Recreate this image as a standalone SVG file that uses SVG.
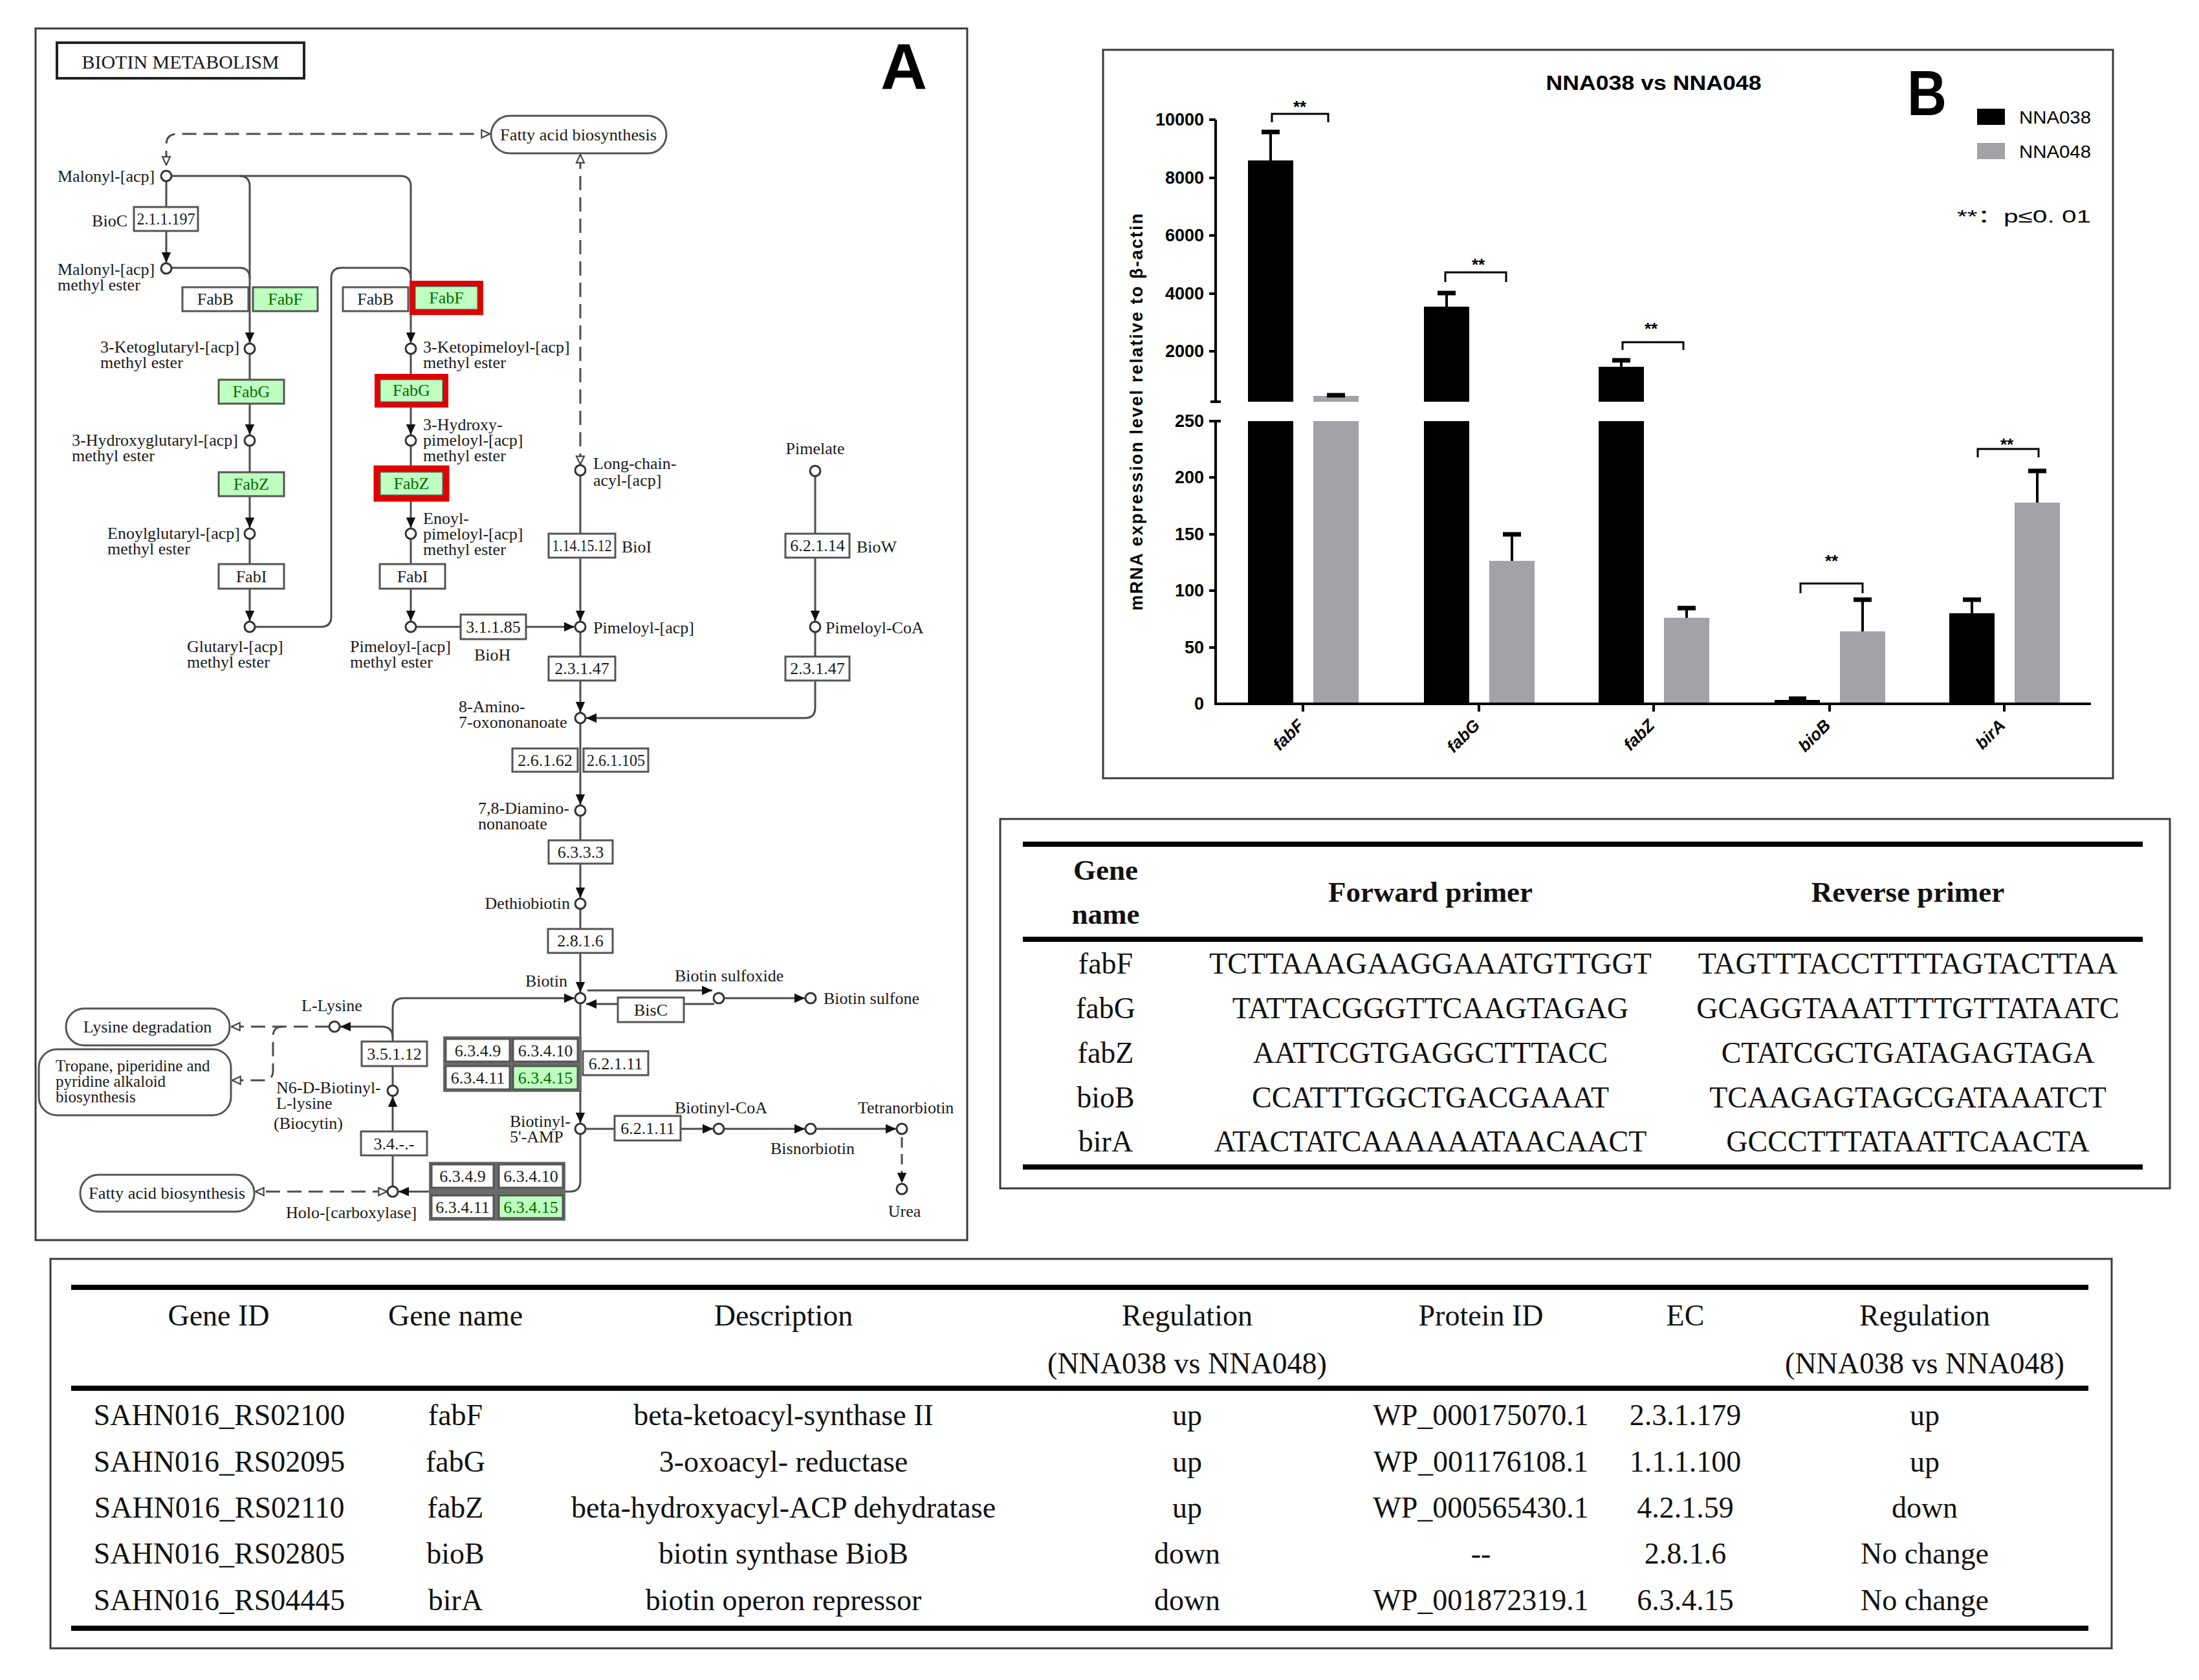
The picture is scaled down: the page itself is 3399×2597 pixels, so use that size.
<svg xmlns="http://www.w3.org/2000/svg" width="3399" height="2597" viewBox="0 0 3399 2597">
<defs>
<style>
.ln{fill:none;stroke:#4d4d4d;stroke-width:3}
.ds{stroke-dasharray:22 11}
.cp{fill:#fff;stroke:#333;stroke-width:3}
.bx{fill:#fff;stroke:#555;stroke-width:3}
.gb{fill:#bfffbf;stroke:#555;stroke-width:3}
.rd{fill:none;stroke:#e00000;stroke-width:8}
.mp{fill:#fff;stroke:#555;stroke-width:3}
.gg{fill:#6b6b6b}
.t{font-family:"Liberation Serif","Times New Roman",serif;font-size:26px;fill:#1a1a1a}
.bt{font-family:"Liberation Serif","Times New Roman",serif;font-size:26px;fill:#1a1a1a;text-anchor:middle}
.gt{fill:#006b00}
.m{text-anchor:middle}
.e{text-anchor:end}
.frame{fill:none;stroke:#3a3a3a;stroke-width:3}
.ax{fill:none;stroke:#000;stroke-width:4}
.cap{stroke:#000;stroke-width:7}
.bk{fill:#000}
.gr{fill:#a2a2a7}
.ss{font-family:"Liberation Sans",Arial,sans-serif;fill:#000}
.tl{font-family:"Liberation Sans",Arial,sans-serif;font-weight:bold;font-size:27px;text-anchor:end;fill:#000}
.xl{font-family:"Liberation Sans",Arial,sans-serif;font-weight:bold;font-style:italic;font-size:26px;text-anchor:end;fill:#000}
.sg{font-family:"Liberation Sans",Arial,sans-serif;font-weight:bold;font-size:26px;text-anchor:middle;fill:#000}
.tb{font-family:"Liberation Serif","Times New Roman",serif;font-size:46px;fill:#111;text-anchor:middle}
.th{font-weight:bold;font-size:45px}
.rule{stroke:#000;stroke-width:8}
</style>
<marker id="ah" viewBox="0 0 10 10" refX="10" refY="5" markerWidth="16" markerHeight="16" markerUnits="userSpaceOnUse" orient="auto"><path d="M0,0.5 L10,5 L0,9.5 z" fill="#111"/></marker>
<marker id="oh" viewBox="0 0 12 12" refX="11" refY="6" markerWidth="16" markerHeight="16" markerUnits="userSpaceOnUse" orient="auto-start-reverse"><path d="M1.5,1.5 L11,6 L1.5,10.5 z" fill="#fff" stroke="#444" stroke-width="1.6"/></marker>
</defs>
<rect width="3399" height="2597" fill="#fff"/>

<!-- ================= PANEL A ================= -->
<g id="panelA">
<rect class="frame" x="55" y="44" width="1440" height="1873"/>
<g id="title-box"><rect x="88" y="66" width="382" height="55" fill="#fff" stroke="#222" stroke-width="4"/><text class="t m" x="279" y="106" style="font-size:30px">BIOTIN METABOLISM</text></g>
<text id="label-A" class="ss" x="1397" y="138" text-anchor="middle" style="font-size:100px;font-weight:bold">A</text>

<g id="connectors">
<path class="ln ds" d="M257,255 V224 Q257,207 274,207 H757" marker-start="url(#oh)" marker-end="url(#oh)"/>
<path class="ln" d="M257,280 V406" marker-end="url(#ah)"/>
<path class="ln" d="M265,272 H619 Q635,272 635,288 V530" marker-end="url(#ah)"/>
<path class="ln" d="M370,272 Q386,272 386,288 V530" marker-end="url(#ah)"/>
<path class="ln" d="M265,414 H370 Q386,414 386,430"/>
<path class="ln" d="M386,547 V672" marker-end="url(#ah)"/>
<path class="ln" d="M386,689 V816" marker-end="url(#ah)"/>
<path class="ln" d="M386,833 V960" marker-end="url(#ah)"/>
<path class="ln" d="M394,969 H496 Q512,969 512,953 V430 Q512,414 528,414 H619 Q635,414 635,430"/>
<path class="ln" d="M635,547 V672" marker-end="url(#ah)"/>
<path class="ln" d="M635,689 V816" marker-end="url(#ah)"/>
<path class="ln" d="M635,833 V960" marker-end="url(#ah)"/>
<path class="ln" d="M643,969 H888" marker-end="url(#ah)"/>
<path class="ln ds" d="M897,239 V718" marker-start="url(#oh)" marker-end="url(#oh)"/>
<path class="ln" d="M897,735 V960" marker-end="url(#ah)"/>
<path class="ln" d="M897,977 V1101" marker-end="url(#ah)"/>
<path class="ln" d="M1260,736 V960" marker-end="url(#ah)"/>
<path class="ln" d="M1260,977 V1094 Q1260,1110 1244,1110 H906" marker-end="url(#ah)"/>
<path class="ln" d="M897,1118 V1244" marker-end="url(#ah)"/>
<path class="ln" d="M897,1261 V1388" marker-end="url(#ah)"/>
<path class="ln" d="M897,1405 V1534" marker-end="url(#ah)"/>
<path class="ln" d="M908,1531 H1101" marker-end="url(#ah)"/>
<path class="ln" d="M1104,1552 H1057"/>
<path class="ln" d="M955,1552 H906" marker-end="url(#ah)"/>
<path class="ln" d="M1119,1543 H1244" marker-end="url(#ah)"/>
<path class="ln" d="M897,1551 V1736" marker-end="url(#ah)"/>
<path class="ln" d="M905,1745 H950"/>
<path class="ln" d="M1052,1745 H1102" marker-end="url(#ah)"/>
<path class="ln" d="M1119,1745 H1244" marker-end="url(#ah)"/>
<path class="ln" d="M1261,1745 H1385" marker-end="url(#ah)"/>
<path class="ln" d="M1394,1758 V1829" style="stroke-dasharray:16 10" marker-end="url(#ah)"/>
<path class="ln" d="M897,1753 V1826 Q897,1842 881,1842 H873"/>
<path class="ln" d="M664,1842 H616" marker-end="url(#ah)"/>
<path class="ln ds" d="M598,1842 H395" marker-start="url(#oh)" marker-end="url(#oh)"/>
<path class="ln" d="M607,1834 V1695" marker-end="url(#ah)"/>
<path class="ln" d="M607,1678 V1560 Q607,1543 624,1543 H888" marker-end="url(#ah)"/>
<path class="ln" d="M607,1604 Q607,1587 590,1587 H526" marker-end="url(#ah)"/>
<path class="ln ds" d="M509,1587 H358" marker-end="url(#oh)"/>
<path class="ln ds" d="M437,1587 Q422,1587 422,1602 V1655 Q422,1670 407,1670 H359" marker-end="url(#oh)"/>
</g>

<!-- map pills -->
<g id="map-fab-top"><rect class="mp" x="759" y="179" width="271" height="58" rx="29"/><text class="t m" x="894" y="217" textLength="242" lengthAdjust="spacingAndGlyphs">Fatty acid biosynthesis</text></g>
<g id="map-lysdeg"><rect class="mp" x="102" y="1559" width="253" height="57" rx="28"/><text class="t m" x="228" y="1596">Lysine degradation</text></g>
<g id="map-tropane"><rect class="mp" x="60" y="1622" width="297" height="102" rx="28"/><text class="t" x="86" y="1656" style="font-size:25px">Tropane, piperidine and<tspan x="86" y="1680">pyridine alkaloid</tspan><tspan x="86" y="1704">biosynthesis</tspan></text></g>
<g id="map-fab-bot"><rect class="mp" x="124" y="1816" width="269" height="57" rx="28"/><text class="t m" x="258" y="1853" textLength="242" lengthAdjust="spacingAndGlyphs">Fatty acid biosynthesis</text></g>

<!-- enzyme boxes -->
<g id="e-2-1-1-197"><rect class="bx" x="207" y="320" width="99" height="37"/><text class="bt" x="256.5" y="347" textLength="90" lengthAdjust="spacingAndGlyphs">2.1.1.197</text><text class="t e" x="197" y="350">BioC</text></g>
<g id="e-fabB1"><rect class="bx" x="282" y="444" width="102" height="37"/><text class="bt" x="333" y="471">FabB</text></g>
<g id="e-fabF1"><rect class="gb" x="391" y="444" width="100" height="37"/><text class="bt gt" x="441" y="471">FabF</text></g>
<g id="e-fabB2"><rect class="bx" x="530" y="444" width="101" height="37"/><text class="bt" x="580.5" y="471">FabB</text></g>
<g id="e-fabF2"><rect class="gb" x="641" y="442" width="98" height="37"/><rect class="rd" x="637" y="438" width="106" height="45"/><text class="bt gt" x="690" y="469">FabF</text></g>
<g id="e-fabG1"><rect class="gb" x="338" y="587" width="101" height="37"/><text class="bt gt" x="388.5" y="614">FabG</text></g>
<g id="e-fabG2"><rect class="gb" x="587" y="586" width="98" height="36"/><rect class="rd" x="583" y="582" width="106" height="44"/><text class="bt gt" x="636" y="612">FabG</text></g>
<g id="e-fabZ1"><rect class="gb" x="338" y="730" width="101" height="37"/><text class="bt gt" x="388.5" y="757">FabZ</text></g>
<g id="e-fabZ2"><rect class="gb" x="587" y="729" width="98" height="37"/><rect class="rd" x="582" y="724" width="108" height="47" style="stroke-width:9"/><text class="bt gt" x="636" y="756">FabZ</text></g>
<g id="e-fabI1"><rect class="bx" x="338" y="872" width="101" height="38"/><text class="bt" x="388.5" y="900">FabI</text></g>
<g id="e-fabI2"><rect class="bx" x="587" y="872" width="101" height="38"/><text class="bt" x="637.5" y="900">FabI</text></g>
<g id="e-3-1-1-85"><rect class="bx" x="712" y="950" width="101" height="38"/><text class="bt" x="762.5" y="978">3.1.1.85</text><text class="t" x="733" y="1021">BioH</text></g>
<g id="e-1-14-15-12"><rect class="bx" x="848" y="825" width="103" height="37"/><text class="bt" x="899.5" y="852" textLength="92" lengthAdjust="spacingAndGlyphs">1.14.15.12</text><text class="t" x="961" y="854">BioI</text></g>
<g id="e-2-3-1-47a"><rect class="bx" x="848" y="1015" width="103" height="37"/><text class="bt" x="899.5" y="1042">2.3.1.47</text></g>
<g id="e-6-2-1-14"><rect class="bx" x="1214" y="825" width="99" height="37"/><text class="bt" x="1263.5" y="852">6.2.1.14</text><text class="t" x="1324" y="854">BioW</text></g>
<g id="e-2-3-1-47b"><rect class="bx" x="1214" y="1015" width="99" height="37"/><text class="bt" x="1263.5" y="1042">2.3.1.47</text></g>
<g id="e-2-6-1-62"><rect class="bx" x="792" y="1157" width="101" height="36"/><text class="bt" x="842.5" y="1184">2.6.1.62</text></g>
<g id="e-2-6-1-105"><rect class="bx" x="902" y="1157" width="100" height="36"/><text class="bt" x="952" y="1184" textLength="90" lengthAdjust="spacingAndGlyphs">2.6.1.105</text></g>
<g id="e-6-3-3-3"><rect class="bx" x="848" y="1299" width="99" height="36"/><text class="bt" x="897.5" y="1326">6.3.3.3</text></g>
<g id="e-2-8-1-6"><rect class="bx" x="847" y="1436" width="100" height="37"/><text class="bt" x="897" y="1463">2.8.1.6</text></g>
<g id="e-bisC"><rect class="bx" x="955" y="1542" width="102" height="38"/><text class="bt" x="1006" y="1570">BisC</text></g>
<g id="e-grid1">
<rect class="gg" x="685" y="1602" width="214" height="86"/>
<rect class="bx" x="689" y="1606" width="99" height="35"/><text class="bt" x="738.5" y="1633">6.3.4.9</text>
<rect class="bx" x="793" y="1606" width="100" height="35"/><text class="bt" x="843" y="1633">6.3.4.10</text>
<rect class="bx" x="689" y="1648" width="99" height="36"/><text class="bt" x="738.5" y="1675">6.3.4.11</text>
<rect class="gb" x="793" y="1648" width="100" height="36"/><text class="bt gt" x="843" y="1675">6.3.4.15</text>
</g>
<g id="e-6-2-1-11a"><rect class="bx" x="901" y="1625" width="101" height="37"/><text class="bt" x="951.5" y="1653">6.2.1.11</text></g>
<g id="e-6-2-1-11b"><rect class="bx" x="950" y="1725" width="102" height="38"/><text class="bt" x="1001" y="1753">6.2.1.11</text></g>
<g id="e-grid2">
<rect class="gg" x="663" y="1796" width="211" height="91"/>
<rect class="bx" x="667" y="1800" width="96" height="36"/><text class="bt" x="715" y="1827">6.3.4.9</text>
<rect class="bx" x="771" y="1800" width="99" height="36"/><text class="bt" x="820.5" y="1827">6.3.4.10</text>
<rect class="bx" x="667" y="1848" width="96" height="35"/><text class="bt" x="715" y="1875">6.3.4.11</text>
<rect class="gb" x="771" y="1848" width="99" height="35"/><text class="bt gt" x="820.5" y="1875">6.3.4.15</text>
</g>
<g id="e-3-4"><rect class="bx" x="558" y="1749" width="102" height="37"/><text class="bt" x="609" y="1777">3.4.-.-</text></g>
<g id="e-3-5-1-12"><rect class="bx" x="559" y="1610" width="101" height="38"/><text class="bt" x="609.5" y="1638">3.5.1.12</text></g>

<!-- compounds -->
<g id="c-malonyl-acp"><circle class="cp" cx="257" cy="272" r="8"/><text class="t" x="89" y="281">Malonyl-[acp]</text></g>
<g id="c-malonyl-me"><circle class="cp" cx="257" cy="415" r="8"/><text class="t" x="89" y="425">Malonyl-[acp]<tspan x="89" y="449">methyl ester</tspan></text></g>
<g id="c-3kg"><circle class="cp" cx="386" cy="539" r="8"/><text class="t" x="155" y="545">3-Ketoglutaryl-[acp]<tspan x="155" y="569">methyl ester</tspan></text></g>
<g id="c-3hg"><circle class="cp" cx="386" cy="681" r="8"/><text class="t" x="111" y="689">3-Hydroxyglutaryl-[acp]<tspan x="111" y="713">methyl ester</tspan></text></g>
<g id="c-eg"><circle class="cp" cx="386" cy="825" r="8"/><text class="t" x="166" y="833">Enoylglutaryl-[acp]<tspan x="166" y="857">methyl ester</tspan></text></g>
<g id="c-gl"><circle class="cp" cx="386" cy="969" r="8"/><text class="t" x="289" y="1008">Glutaryl-[acp]<tspan x="289" y="1032">methyl ester</tspan></text></g>
<g id="c-3kp"><circle class="cp" cx="635" cy="539" r="8"/><text class="t" x="654" y="545">3-Ketopimeloyl-[acp]<tspan x="654" y="569">methyl ester</tspan></text></g>
<g id="c-3hp"><circle class="cp" cx="635" cy="681" r="8"/><text class="t" x="654" y="665">3-Hydroxy-<tspan x="654" y="689">pimeloyl-[acp]</tspan><tspan x="654" y="713">methyl ester</tspan></text></g>
<g id="c-ep"><circle class="cp" cx="635" cy="825" r="8"/><text class="t" x="654" y="810">Enoyl-<tspan x="654" y="834">pimeloyl-[acp]</tspan><tspan x="654" y="858">methyl ester</tspan></text></g>
<g id="c-pm"><circle class="cp" cx="635" cy="969" r="8"/><text class="t" x="541" y="1008">Pimeloyl-[acp]<tspan x="541" y="1032">methyl ester</tspan></text></g>
<g id="c-lc"><circle class="cp" cx="897" cy="727" r="8"/><text class="t" x="917" y="725">Long-chain-<tspan x="917" y="751">acyl-[acp]</tspan></text></g>
<g id="c-pacp"><circle class="cp" cx="897" cy="969" r="8"/><text class="t" x="917" y="979">Pimeloyl-[acp]</text></g>
<g id="c-pimelate"><circle class="cp" cx="1260" cy="728" r="8"/><text class="t m" x="1260" y="702">Pimelate</text></g>
<g id="c-pcoa"><circle class="cp" cx="1260" cy="969" r="8"/><text class="t" x="1276" y="979">Pimeloyl-CoA</text></g>
<g id="c-8a"><circle class="cp" cx="897" cy="1110" r="8"/><text class="t" x="709" y="1101">8-Amino-<tspan x="709" y="1125">7-oxononanoate</tspan></text></g>
<g id="c-78d"><circle class="cp" cx="897" cy="1253" r="8"/><text class="t" x="739" y="1258">7,8-Diamino-<tspan x="739" y="1282">nonanoate</tspan></text></g>
<g id="c-dtb"><circle class="cp" cx="897" cy="1397" r="8"/><text class="t e" x="881" y="1405">Dethiobiotin</text></g>
<g id="c-biotin"><circle class="cp" cx="897" cy="1543" r="8"/><text class="t e" x="877" y="1525">Biotin</text></g>
<g id="c-bso"><circle class="cp" cx="1111" cy="1543" r="8"/><text class="t" x="1043" y="1517">Biotin sulfoxide</text></g>
<g id="c-bsone"><circle class="cp" cx="1253" cy="1543" r="8"/><text class="t" x="1273" y="1552">Biotin sulfone</text></g>
<g id="c-b5amp"><circle class="cp" cx="897" cy="1745" r="8"/><text class="t" x="788" y="1742">Biotinyl-<tspan x="788" y="1766">5'-AMP</tspan></text></g>
<g id="c-bcoa"><circle class="cp" cx="1111" cy="1745" r="8"/><text class="t" x="1043" y="1721">Biotinyl-CoA</text></g>
<g id="c-bnb"><circle class="cp" cx="1253" cy="1745" r="8"/><text class="t" x="1191" y="1784">Bisnorbiotin</text></g>
<g id="c-tnb"><circle class="cp" cx="1394" cy="1745" r="8"/><text class="t" x="1326" y="1721">Tetranorbiotin</text></g>
<g id="c-urea"><circle class="cp" cx="1394" cy="1838" r="8"/><text class="t m" x="1398" y="1881">Urea</text></g>
<g id="c-holo"><circle class="cp" cx="607" cy="1842" r="8"/><text class="t" x="442" y="1883">Holo-[carboxylase]</text></g>
<g id="c-n6"><circle class="cp" cx="607" cy="1686" r="8"/><text class="t" x="427" y="1690">N6-D-Biotinyl-<tspan x="427" y="1714">L-lysine</tspan><tspan x="423" y="1745">(Biocytin)</tspan></text></g>
<g id="c-lys"><circle class="cp" cx="517" cy="1587" r="8"/><text class="t" x="466" y="1563">L-Lysine</text></g>
</g>

<!-- ================= PANEL B ================= -->
<g id="panelB">
<rect class="frame" x="1705" y="77" width="1561" height="1126"/>
<text class="ss" x="2556" y="139" text-anchor="middle" style="font-size:31px;font-weight:bold" textLength="333" lengthAdjust="spacingAndGlyphs">NNA038 vs NNA048</text>
<text class="ss" x="2948" y="178" style="font-size:98px;font-weight:bold" textLength="61" lengthAdjust="spacingAndGlyphs">B</text>
<g id="legend">
<rect class="bk" x="3056" y="168" width="43" height="25"/>
<text class="ss" x="3121" y="191" style="font-size:28px" textLength="111" lengthAdjust="spacingAndGlyphs">NNA038</text>
<rect class="gr" x="3056" y="221" width="43" height="25"/>
<text class="ss" x="3121" y="244" style="font-size:28px" textLength="111" lengthAdjust="spacingAndGlyphs">NNA048</text>
<text class="ss" x="3025" y="344" style="font-size:28px;font-family:'Liberation Sans','Noto Sans CJK SC',sans-serif" textLength="207" lengthAdjust="spacingAndGlyphs">**：p≤0. 01</text>
</g>
<text class="ss" transform="translate(1766,637) rotate(-90)" text-anchor="middle" style="font-size:27px;font-weight:bold" textLength="614" lengthAdjust="spacing">mRNA expression level relative to β-actin</text>

<g id="bars">
<rect class="bk" x="1929" y="248" width="70" height="373"/><rect class="bk" x="1929" y="651" width="70" height="437"/>
<rect class="gr" x="2030" y="612" width="70" height="9"/><rect class="gr" x="2030" y="651" width="70" height="437"/>
<rect class="bk" x="2201" y="474" width="70" height="147"/><rect class="bk" x="2201" y="651" width="70" height="437"/>
<rect class="gr" x="2302" y="867" width="70" height="221"/>
<rect class="bk" x="2471" y="567" width="70" height="54"/><rect class="bk" x="2471" y="651" width="70" height="437"/>
<rect class="gr" x="2572" y="955" width="70" height="133"/>
<rect class="bk" x="2743" y="1082" width="70" height="6"/>
<rect class="gr" x="2844" y="976" width="70" height="112"/>
<rect class="bk" x="3013" y="948" width="70" height="140"/>
<rect class="gr" x="3114" y="777" width="70" height="311"/>
</g>
<g id="errorbars" stroke="#000">
<path stroke-width="4" d="M1964,248 V204 M2236,474 V453 M2337,867 V826 M2506,567 V557 M2607,955 V940 M2879,976 V927 M3048,948 V927 M3149,777 V728"/>
<path class="cap" d="M1950,204 H1978 M2051,611 H2079 M2222,453 H2250 M2323,826 H2351 M2492,557 H2520 M2593,940 H2621 M2765,1080 H2792 M2865,927 H2893 M3034,927 H3062 M3135,728 H3163"/>
</g>
<g id="axes">
<path class="ax" d="M1879,185 V621 M1869,185 H1879 M1869,275 H1879 M1869,364 H1879 M1869,454 H1879 M1869,543 H1879 M1871,621 H1887"/>
<path class="ax" d="M1879,651 V1088 M1869,651 H1887 M1869,738 H1879 M1869,826 H1879 M1869,913 H1879 M1869,1001 H1879"/>
<path class="ax" d="M1877,1088 H3232 M2014,1088 V1100 M2286,1088 V1100 M2556,1088 V1100 M2828,1088 V1100 M3098,1088 V1100"/>
<text class="tl" x="1861" y="194">10000</text>
<text class="tl" x="1861" y="284">8000</text>
<text class="tl" x="1861" y="373">6000</text>
<text class="tl" x="1861" y="463">4000</text>
<text class="tl" x="1861" y="552">2000</text>
<text class="tl" x="1861" y="660">250</text>
<text class="tl" x="1861" y="747">200</text>
<text class="tl" x="1861" y="835">150</text>
<text class="tl" x="1861" y="922">100</text>
<text class="tl" x="1861" y="1010">50</text>
<text class="tl" x="1861" y="1097">0</text>
<text class="xl" transform="translate(2017,1123) rotate(-45)">fabF</text>
<text class="xl" transform="translate(2289,1123) rotate(-45)">fabG</text>
<text class="xl" transform="translate(2559,1123) rotate(-45)">fabZ</text>
<text class="xl" transform="translate(2831,1123) rotate(-45)">bioB</text>
<text class="xl" transform="translate(3101,1123) rotate(-45)">birA</text>
</g>
<g id="significance">
<path fill="none" stroke="#000" stroke-width="3" d="M1966,189 V176 H2053 V189 M2234,436 V421 H2328 V436 M2508,541 V529 H2602 V541 M2783,917 V902 H2879 V917 M3057,707 V694 H3151 V707"/>
<text class="sg" x="2009" y="174">**</text>
<text class="sg" x="2285" y="418">**</text>
<text class="sg" x="2552" y="517">**</text>
<text class="sg" x="2831" y="876">**</text>
<text class="sg" x="3102" y="696">**</text>
</g>
</g>

<!-- ================= PRIMER TABLE ================= -->
<g id="primer-table">
<rect class="frame" x="1546" y="1266" width="1808" height="571"/>
<path class="rule" d="M1581,1305 H3312 M1581,1452 H3312 M1581,1804 H3312"/>
<text class="tb th" x="1709" y="1360">Gene</text>
<text class="tb th" x="1709" y="1428">name</text>
<text class="tb th" x="2211" y="1394">Forward primer</text>
<text class="tb th" x="2949" y="1394">Reverse primer</text>
<text class="tb" x="1709" y="1505">fabF</text><text class="tb" x="2211" y="1505">TCTTAAAGAAGGAAATGTTGGT</text><text class="tb" x="2949" y="1505">TAGTTTACCTTTTAGTACTTAA</text>
<text class="tb" x="1709" y="1574">fabG</text><text class="tb" x="2211" y="1574">TATTACGGGTTCAAGTAGAG</text><text class="tb" x="2949" y="1574">GCAGGTAAATTTTGTTATAATC</text>
<text class="tb" x="1709" y="1643">fabZ</text><text class="tb" x="2211" y="1643">AATTCGTGAGGCTTTACC</text><text class="tb" x="2949" y="1643">CTATCGCTGATAGAGTAGA</text>
<text class="tb" x="1709" y="1712">bioB</text><text class="tb" x="2211" y="1712">CCATTTGGCTGACGAAAT</text><text class="tb" x="2949" y="1712">TCAAGAGTAGCGATAAATCT</text>
<text class="tb" x="1709" y="1780">birA</text><text class="tb" x="2211" y="1780">ATACTATCAAAAAATAACAACT</text><text class="tb" x="2949" y="1780">GCCCTTTATAATTCAACTA</text>
</g>

<!-- ================= GENE TABLE ================= -->
<g id="gene-table">
<rect class="frame" x="78" y="1946" width="3186" height="602"/>
<path class="rule" d="M110,1990 H3228 M110,2146 H3228 M110,2517 H3228"/>
<text class="tb" x="338" y="2049">Gene ID</text>
<text class="tb" x="704" y="2049">Gene name</text>
<text class="tb" x="1211" y="2049">Description</text>
<text class="tb" x="1835" y="2049">Regulation</text>
<text class="tb" x="1835" y="2123">(NNA038 vs NNA048)</text>
<text class="tb" x="2289" y="2049">Protein ID</text>
<text class="tb" x="2605" y="2049">EC</text>
<text class="tb" x="2975" y="2049">Regulation</text>
<text class="tb" x="2975" y="2123">(NNA038 vs NNA048)</text>

<text class="tb" x="339" y="2203">SAHN016_RS02100</text><text class="tb" x="704" y="2203">fabF</text><text class="tb" x="1211" y="2203">beta-ketoacyl-synthase II</text><text class="tb" x="1835" y="2203">up</text><text class="tb" x="2289" y="2203">WP_000175070.1</text><text class="tb" x="2605" y="2203">2.3.1.179</text><text class="tb" x="2975" y="2203">up</text>
<text class="tb" x="339" y="2275">SAHN016_RS02095</text><text class="tb" x="704" y="2275">fabG</text><text class="tb" x="1211" y="2275">3-oxoacyl- reductase</text><text class="tb" x="1835" y="2275">up</text><text class="tb" x="2289" y="2275">WP_001176108.1</text><text class="tb" x="2605" y="2275">1.1.1.100</text><text class="tb" x="2975" y="2275">up</text>
<text class="tb" x="339" y="2346">SAHN016_RS02110</text><text class="tb" x="704" y="2346">fabZ</text><text class="tb" x="1211" y="2346">beta-hydroxyacyl-ACP dehydratase</text><text class="tb" x="1835" y="2346">up</text><text class="tb" x="2289" y="2346">WP_000565430.1</text><text class="tb" x="2605" y="2346">4.2.1.59</text><text class="tb" x="2975" y="2346">down</text>
<text class="tb" x="339" y="2417">SAHN016_RS02805</text><text class="tb" x="704" y="2417">bioB</text><text class="tb" x="1211" y="2417">biotin synthase BioB</text><text class="tb" x="1835" y="2417">down</text><text class="tb" x="2289" y="2417">--</text><text class="tb" x="2605" y="2417">2.8.1.6</text><text class="tb" x="2975" y="2417">No change</text>
<text class="tb" x="339" y="2489">SAHN016_RS04445</text><text class="tb" x="704" y="2489">birA</text><text class="tb" x="1211" y="2489">biotin operon repressor</text><text class="tb" x="1835" y="2489">down</text><text class="tb" x="2289" y="2489">WP_001872319.1</text><text class="tb" x="2605" y="2489">6.3.4.15</text><text class="tb" x="2975" y="2489">No change</text>
</g>
</svg>
